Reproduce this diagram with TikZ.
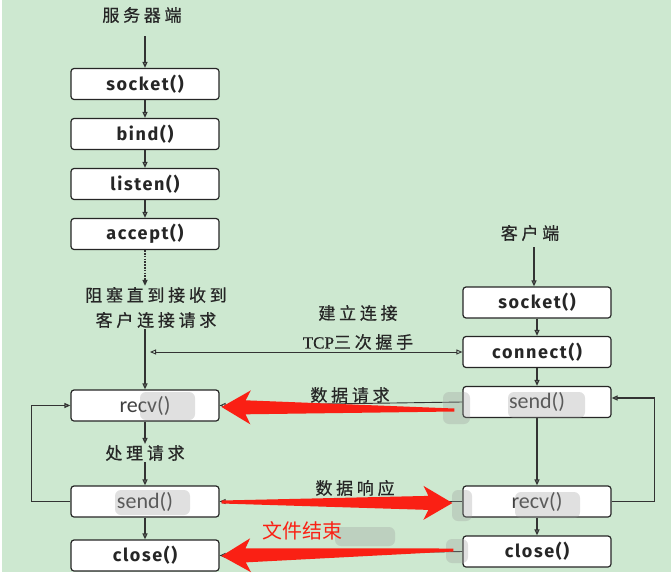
\documentclass[tikz,border=0pt]{standalone}
\usepackage{fontspec}
\newfontfamily\cjk[LetterSpace=22,FakeBold=0.6]{Noto Sans CJK SC}
\newfontfamily\cjkplain{Noto Sans CJK SC}
\newfontfamily\tcpfont[FakeBold=0.6]{Liberation Serif}
\newfontfamily\fnfont[LetterSpace=9]{Fira Sans}
\newfontfamily\msfont{Carlito}
\usepackage{tikz}
\usetikzlibrary{calc}
\usetikzlibrary{arrows.meta,positioning}
\usepackage{xcolor}
\definecolor{bggreen}{RGB}{205,232,208}
\definecolor{arrowred}{RGB}{250,32,20}

\tikzset{
  fbox/.style={draw=black!85, line width=1.2pt, rounded corners=3pt, fill=white,
    minimum width=148pt, minimum height=31pt, inner sep=0pt,
    font=\fnfont\bfseries\fontsize{18}{18}\selectfont, text=black!85},
  msbox/.style={fbox, font=\msfont\fontsize{22}{22}\selectfont, text=black!75},
  flow/.style={draw=black!80, line width=1.3pt, -{Triangle[open,length=6pt,width=5pt]}},
  thin flow/.style={draw=black!80, line width=0.9pt, -{Triangle[open,length=6pt,width=5pt]}},
  lbl/.style={font=\cjk\fontsize{17}{25}\selectfont, text=black!85, align=center, inner sep=1pt},
  blur/.style={fill=black!40, opacity=0.3, rounded corners=6pt},
}

% fat red arrow from #1 (thin tail) to #2 (tip)
\newcommand{\fatarrow}[2]{%
  \coordinate (fa-n) at ($(#2)!24pt!(#1)$);
  \coordinate (fa-b) at ($(#2)!29pt!(#1)$);
  \fill[arrowred] ($(#1)!1.5pt!90:(#2)$) -- ($(fa-n)!7pt!90:(#2)$)
    -- ($(fa-b)!17pt!90:(#2)$) -- (#2) -- ($(fa-b)!17pt!-90:(#2)$)
    -- ($(fa-n)!7pt!-90:(#2)$) -- ($(#1)!1.5pt!-90:(#2)$) -- cycle;
}

\begin{document}
\begin{tikzpicture}[x=1pt,y=-1pt]
        \useasboundingbox (0,0) rectangle (671,575);
        \fill[bggreen] (2,0) rectangle (671,572);

        % Server side
        \node[lbl] (srvname) at (142,15) {服务器端};
        \node[fbox] (ssocket) at (145,84) {socket()};
        \node[fbox] (sbind) at (145,134) {bind()};
        \node[fbox] (slisten) at (145,184) {listen()};
        \node[fbox] (saccept) at (145,234) {accept()};
        \node[lbl] (blocklbl) at (156,307.5) {阻塞直到接收到\\客户连接请求};
        \node[msbox] (srecv) at (145,405.5) {recv()};
        \node[lbl] (proclbl) at (145,453) {处理请求};
        \node[msbox] (ssend) at (145,501.5) {send()};
        \node[fbox] (sclose) at (145,555.5) {close()};

        % Client side
        \node[lbl] (cltname) at (530,233) {客户端};
        \node[fbox] (csocket) at (537,302.5) {socket()};
        \node[fbox] (cconnect) at (537,352) {connect()};
        \node[msbox] (csend) at (537,402) {send()};
        \node[msbox] (crecv) at (537,501.5) {recv()};
        \node[fbox] (cclose) at (537,551.5) {close()};

        % Labels between the two sides
        \node[lbl, font=\cjk\fontsize{17}{29}\selectfont] (connlbl) at (358,327.5)
          {建立连接\\{\tcpfont TCP}三次握手};
        \node[lbl] (reqlbl) at (350,395) {数据请求};
        \node[lbl] (resplbl) at (355,488) {数据响应};

        % Server flow
        \draw[flow] (srvname.south -| ssocket.north) ++(0,12) -- (ssocket.north);
        \draw[flow] (ssocket) -- (sbind);
        \draw[flow] (sbind) -- (slisten);
        \draw[flow] (slisten) -- (saccept);
        \draw[flow, dash pattern=on 1.6pt off 1.2pt, line width=2.6pt]
          (saccept.south) -- (saccept.south |- blocklbl.north);
        \draw[flow] (blocklbl.south -| srecv.north) -- (srecv.north);
        \draw[flow] (srecv) -- (proclbl);
        \draw[flow] (proclbl) -- (ssend);
        \draw[flow] (ssend) -- (sclose);
        \draw[flow] (ssend.west) -- ++(-39,0) |- (srecv.west);

        % Client flow
        \draw[flow] (cltname.south -| csocket.north) ++(-3,5) -- ($(csocket.north)+(-3,0)$);
        \draw[flow] (csocket) -- (cconnect);
        \draw[flow] (cconnect) -- (csend);
        \draw[flow] (csend) -- (crecv);
        \draw[flow] (crecv) -- (cclose);
        \draw[flow] (crecv.east) -- ++(43,0) |- ($(csend.east)+(0,-4)$);

        % Handshake line
        \coordinate (hsleft) at ($(cconnect.west -| srecv.north)+(5,0)$);
        \draw[thin flow, {Triangle[open,length=6pt,width=5pt]}-{Triangle[open,length=6pt,width=5pt]}]
          (hsleft) -- (cconnect.west);

        % Thin request / response lines
        \draw[thin flow] (csend.west) -- (srecv.east);
        \draw[thin flow] (crecv.west) -- (ssend.east);
        \draw[thin flow] (cclose.west) -- (sclose.east);

        % Mosaic patches
        \fill[blur] (140,392) rectangle (195,420);
        \fill[blur] (115,490) rectangle (190,515);
        \fill[blur] (443,392) rectangle (470,424);
        \fill[blur] (508,392) rectangle (585,418);
        \fill[blur] (452,490) rectangle (472,521);
        \fill[blur] (515,492) rectangle (580,518);
        \fill[blur] (335,527) rectangle (395,546);
        \fill[blur] (446,539) rectangle (468,563);

        % Fat red arrows
        \coordinate (rqtail) at ($(csend.west)+(-8,8)$);
        \coordinate (rqtip) at ($(srecv.east)+(2,1.5)$);
        \fatarrow{rqtail}{rqtip}
        \coordinate (rstail) at ($(ssend.east)+(2,0.5)$);
        \coordinate (rstip) at ($(crecv.west)+(-10,1.5)$);
        \fatarrow{rstail}{rstip}
        \coordinate (eftail) at ($(cclose.west)+(-9,-1.5)$);
        \coordinate (eftip) at ($(sclose.east)+(2,0.5)$);
        \fatarrow{eftail}{eftip}
        \node[font=\cjkplain\fontsize{20}{20}\selectfont, text=arrowred, inner sep=0pt] (eoflbl) at (302,531) {文件结束};

    \end{tikzpicture}
\end{document}
